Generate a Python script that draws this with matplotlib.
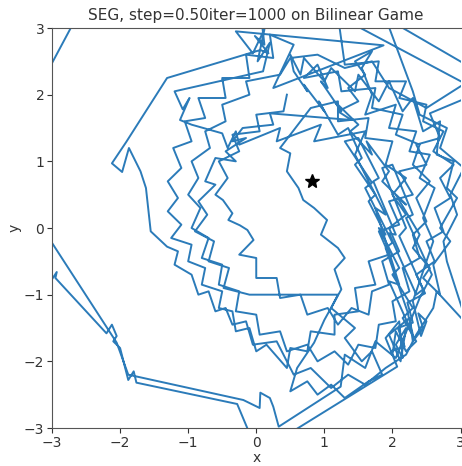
import numpy as np
import matplotlib
matplotlib.use("Agg")
import matplotlib.pyplot as plt

# Iterates of stochastic extragradient on the bilinear game, split into passes
pass_lower_left = [(-3.15, -1.0), (-2.93, -0.66), (-2.95, -0.75), (-2.2, -1.58), (-2.12, -1.45),
                   (-2.05, -1.62), (-2.1, -1.7), (-2.0, -1.8), (-1.88, -2.28), (-1.8, -2.15),
                   (-1.76, -2.32), (-0.28, -2.64), (-0.05, -3.2)]

pass_right_up = [(0.3, -3.2), (2.07, -2.08), (1.98, -1.85), (2.18, -1.78), (2.08, -1.5), (2.3, -1.42),
                 (2.22, -1.12), (2.48, -0.98), (2.35, -0.7), (2.62, -0.5), (2.5, -0.2), (2.75, -0.05),
                 (2.62, 0.3), (2.85, 0.45), (2.7, 0.75), (2.9, 0.95), (2.6, 1.15), (2.75, 1.45),
                 (2.45, 1.6), (2.5, 1.85), (2.1, 1.95), (2.2, 2.2), (1.75, 2.2), (1.8, 2.5),
                 (1.3, 2.45), (1.2, 3.18), (3.3, 2.04), (2.55, 1.72)]

pass_ring_a = [(2.7, 1.35), (2.35, 1.25), (2.5, 0.95), (2.1, 0.85), (2.3, 0.5), (1.95, 0.4), (2.1, 0.05),
               (1.8, -0.05), (1.95, -0.4), (1.65, -0.5), (1.75, -0.85), (1.45, -0.9), (1.5, -1.25),
               (1.15, -1.3), (1.15, -1.6), (0.8, -1.55), (0.75, -1.85), (0.5, -1.8), (0.45, -2.1),
               (0.15, -1.75), (0.0, -1.85), (-0.1, -1.5), (-0.3, -1.55), (-0.35, -1.25), (-0.55, -1.2),
               (-0.5, -0.95), (-0.8, -0.85), (-0.75, -0.6), (-1.0, -0.5), (-0.95, -0.25), (-1.25, -0.15),
               (-1.1, 0.05), (-1.3, 0.25), (-1.15, 0.45), (-1.3, 0.7), (-1.1, 0.9), (-1.22, 1.2),
               (-0.95, 1.3), (-1.05, 1.6), (-0.75, 1.65), (-0.85, 1.95), (-0.45, 1.95), (-0.5, 2.25),
               (-0.1, 2.25), (-0.15, 2.6), (0.25, 2.55), (0.2, 2.9), (0.55, 2.75)]

pass_top = [(0.25, 2.1), (1.87, 2.74), (-0.3, 2.95), (-0.05, 2.62), (0.12, 2.98), (0.02, 2.5),
            (0.2, 2.78), (0.1, 2.35), (-1.2, 2.05), (-1.08, 1.78), (-0.98, 1.95), (-1.12, 1.62),
            (-0.95, 1.55), (-0.5, 1.42), (-0.42, 1.2), (-0.3, 1.45), (-0.25, 1.25), (0.35, 1.5),
            (0.3, 1.3), (0.95, 1.55), (0.85, 1.3), (1.6, 1.45), (1.45, 1.1), (1.9, 0.2), (1.75, 0.3),
            (2.1, -0.85), (1.95, -0.8), (2.3, -1.6), (2.22, -1.25), (1.9, -0.3), (2.0, -0.22),
            (1.6, 0.6), (1.7, 0.68), (1.3, 1.3), (1.5, 1.35), (1.8, 0.75), (1.72, 0.7), (2.05, -0.1),
            (1.95, -0.08), (2.35, -1.0), (2.45, -0.92), (2.1, -0.12), (2.2, 0.0), (1.85, 0.9),
            (2.0, 0.95), (2.3, 0.2), (2.2, 0.15), (2.58, -0.7)]

pass_lower = [(2.4, -1.05), (2.05, -1.95), (1.75, -1.7), (1.6, -2.1), (1.3, -1.9), (1.24, -2.38),
              (0.33, -2.98), (0.25, -2.68), (0.2, -2.55), (0.06, -2.47), (0.05, -2.7), (-0.19, -2.58),
              (-1.88, -2.2), (-2.05, -1.72), (-3.3, 0.25)]

pass_outer = [(-3.3, 1.9), (-2.62, 3.2), (-0.9, 3.5), (0.08, 3.1), (0.12, 2.75), (-0.02, 2.88),
              (0.18, 2.62), (0.06, 2.67), (-1.31, 2.25), (-1.91, 1.29), (-2.12, 0.97), (-1.97, 0.84),
              (-1.87, 1.2), (-1.7, 0.85), (-1.62, 0.6), (-1.55, -0.05), (-1.31, -0.28), (-1.15, -0.35),
              (-1.2, -0.55), (-0.95, -0.7), (-0.85, -1.0), (-0.7, -0.95), (-0.6, -1.25), (-0.45, -1.2),
              (-0.35, -1.45), (-0.15, -1.4), (-0.05, -1.75), (0.3, -1.7), (0.55, -2.2), (0.8, -2.1),
              (1.1, -2.4), (1.35, -2.2), (1.6, -2.35), (1.9, -2.1), (2.2, -1.9), (2.35, -1.6),
              (2.6, -1.2), (2.65, -0.95), (3.1, -1.45)]

pass_ring_b = [(2.8, -0.5), (2.75, -0.2), (2.95, 0.2), (2.85, 0.5), (3.05, 0.9), (2.7, 1.2), (2.8, 1.5),
               (2.4, 1.7), (2.3, 2.05), (1.9, 3.15), (3.3, 2.32), (2.5, 1.8), (1.95, 2.1), (1.7, 2.5),
               (1.3, 2.4), (0.9, 2.6), (0.5, 2.55), (0.35, 2.3), (-0.15, 2.2), (-0.1, 2.0),
               (-0.5, 1.85), (-0.45, 1.6), (-0.75, 1.45), (-0.68, 1.2), (-0.95, 1.0), (-0.85, 0.75),
               (-1.0, 0.5), (-0.82, 0.3), (-0.95, 0.0), (-0.7, -0.15), (-0.8, -0.45), (-0.5, -0.55),
               (-0.55, -0.85), (-0.25, -0.95), (-0.3, -1.25), (0.0, -1.3), (0.05, -1.6), (0.35, -1.55),
               (0.45, -1.85), (0.75, -1.75), (0.9, -2.0), (1.15, -1.85), (1.35, -2.05), (1.5, -1.75),
               (1.75, -1.8), (1.8, -1.45), (2.05, -1.4), (2.0, -1.1), (2.25, -0.95), (2.15, -0.6),
               (2.4, -0.45), (2.3, -0.1), (2.5, 0.1), (2.35, 0.45), (2.55, 0.7), (2.3, 0.95),
               (2.4, 1.25), (2.05, 1.4), (2.15, 1.7), (1.7, 1.8), (1.75, 2.1), (1.25, 2.05),
               (1.2, 2.35), (0.7, 2.25)]

pass_northeast = [(0.9, 2.45), (1.05, 2.1), (0.95, 2.2), (1.25, 1.75), (1.15, 1.9), (1.5, 1.55),
                  (1.38, 1.45), (1.7, 1.1), (1.62, 1.3), (1.95, 0.85), (1.85, 0.7), (2.2, 0.35),
                  (2.05, 0.5), (2.4, -0.1), (2.3, -0.3), (2.55, -0.6), (2.45, -0.75), (2.7, -1.0),
                  (2.6, -0.55), (2.85, -0.2), (2.7, 0.0), (2.95, 0.45), (2.8, 0.6), (2.9, 1.0),
                  (2.65, 1.1), (2.7, 1.6), (2.45, 1.45), (2.3, 1.95), (2.15, 1.75), (1.95, 2.2),
                  (1.8, 1.9), (1.5, 2.3), (1.45, 2.05), (1.1, 2.4), (1.0, 2.2), (0.7, 2.55),
                  (0.65, 2.3), (0.5, 2.6), (0.55, 2.35), (0.75, 2.05), (0.7, 2.15), (1.0, 1.75),
                  (0.92, 1.9), (1.2, 1.4), (1.35, 1.5), (1.55, 1.05), (1.45, 0.95), (1.75, 0.5),
                  (1.65, 0.4), (1.9, -0.1), (1.8, 0.0), (2.1, -0.6), (2.0, -0.7), (2.3, -1.2),
                  (2.15, -1.35), (2.35, -1.7), (2.2, -1.85), (2.05, -1.55), (2.0, -1.9), (1.9, -1.65),
                  (2.1, -1.4), (2.15, -1.95), (2.05, -1.75), (2.2, -1.5), (2.12, -2.0), (1.95, -1.6),
                  (2.25, -1.35), (2.3, -1.7), (2.45, -1.5), (2.38, -1.28), (2.5, -1.4), (2.42, -1.62)]

pass_top_band = [(2.3, -1.1), (2.6, -0.2), (2.45, 0.15), (2.62, 0.6), (2.4, 0.75), (2.55, 1.1),
                 (2.25, 1.15), (2.35, 1.45), (1.95, 1.5), (2.05, 1.85), (1.6, 1.7), (1.7, 2.0),
                 (1.55, 2.4), (1.7, 2.65), (1.45, 2.5), (1.6, 2.3), (1.35, 2.1), (1.5, 1.9),
                 (1.2, 1.75), (1.4, 1.62), (0.2, 1.72), (0.25, 1.55), (-0.2, 1.5), (-0.35, 1.3),
                 (-0.15, 1.35), (-0.45, 1.15), (-0.3, 1.0), (-0.6, 1.05), (-0.75, 0.7), (-0.6, 0.65),
                 (-0.85, 0.4), (-0.72, 0.2), (-0.9, -0.05), (-0.62, -0.2), (-0.7, -0.5), (-0.4, -0.6),
                 (-0.48, -0.9), (-0.1, -1.0), (1.2, -1.0), (1.1, -1.2), (1.45, -1.5), (1.3, -1.65),
                 (1.55, -2.0), (1.7, -1.85), (1.85, -2.2), (1.65, -2.3), (1.3, -2.55), (1.1, -2.35),
                 (0.9, -2.5), (0.75, -2.3), (0.5, -2.45), (0.6, -2.1), (0.85, -1.72), (1.0, -1.38),
                 (1.25, -0.92), (1.15, -0.62), (1.3, -0.45)]

pass_inner = [(1.2, -0.3), (0.95, -0.1), (1.04, 0.12), (0.85, 0.3), (0.69, 0.42), (0.62, 0.6),
              (0.45, 0.85), (0.5, 1.12), (0.35, 1.2), (0.8, 1.8), (1.2, 1.9), (1.2, 1.6), (1.65, 1.65),
              (1.6, 1.35), (2.0, 1.3), (1.9, 0.95), (2.2, 0.75), (2.0, 0.5), (2.2, 0.2), (1.95, 0.0),
              (2.1, -0.35), (1.85, -0.5), (1.95, -0.85), (1.7, -0.95), (1.65, -1.3), (1.4, -1.2),
              (1.2, -1.45), (1.05, -1.2), (0.75, -1.3), (0.65, -1.0), (0.35, -1.05), (0.3, -0.75),
              (0.0, -0.75), (0.0, -0.45), (-0.25, -0.4), (-0.04, -0.18), (-0.13, -0.03), (-0.24, 0.04),
              (-0.41, 0.12), (-0.35, 0.22), (-0.49, 0.42), (-0.6, 0.5), (-0.42, 0.75), (-0.55, 1.0),
              (-0.25, 1.15), (-0.35, 1.4), (0.05, 1.45), (0.0, 1.7), (0.4, 1.75), (0.45, 2.0)]

passes = [pass_lower_left, pass_right_up, pass_ring_a, pass_top, pass_lower, pass_outer,
          pass_ring_b, pass_northeast, pass_top_band, pass_inner]

star_x, star_y = 0.82, 0.70

xticks = [-3, -2, -1, 0, 1, 2, 3]
yticks = [-3, -2, -1, 0, 1, 2, 3]

traj = np.concatenate([np.array(p, dtype=float) for p in passes])

fig = plt.figure(figsize=(4.62, 4.66), dpi=100)
ax = fig.add_axes([52 / 462, 38 / 466, 408.5 / 462, 400 / 466])

ax.plot(traj[:, 0], traj[:, 1], color="#2b7bb9", linewidth=1.4)
ax.plot([star_x], [star_y], marker="*", color="black", markersize=10.5, linestyle="none")

ax.set_xlim(-3, 3)
ax.set_ylim(-3, 3)
ax.set_xticks(xticks)
ax.set_yticks(yticks)
ax.set_xlabel("x", color="#333333", labelpad=1)
ax.set_ylabel("y", color="#333333", labelpad=2)
ax.set_title("SEG, step=0.50iter=1000 on Bilinear Game", fontsize=11, color="#333333")
ax.spines["right"].set_visible(False)
for s in ("left", "bottom", "top"):
    ax.spines[s].set_color("#555555")
ax.tick_params(colors="#333333", labelsize=10, pad=2)

fig.savefig("out.png", dpi=100)
